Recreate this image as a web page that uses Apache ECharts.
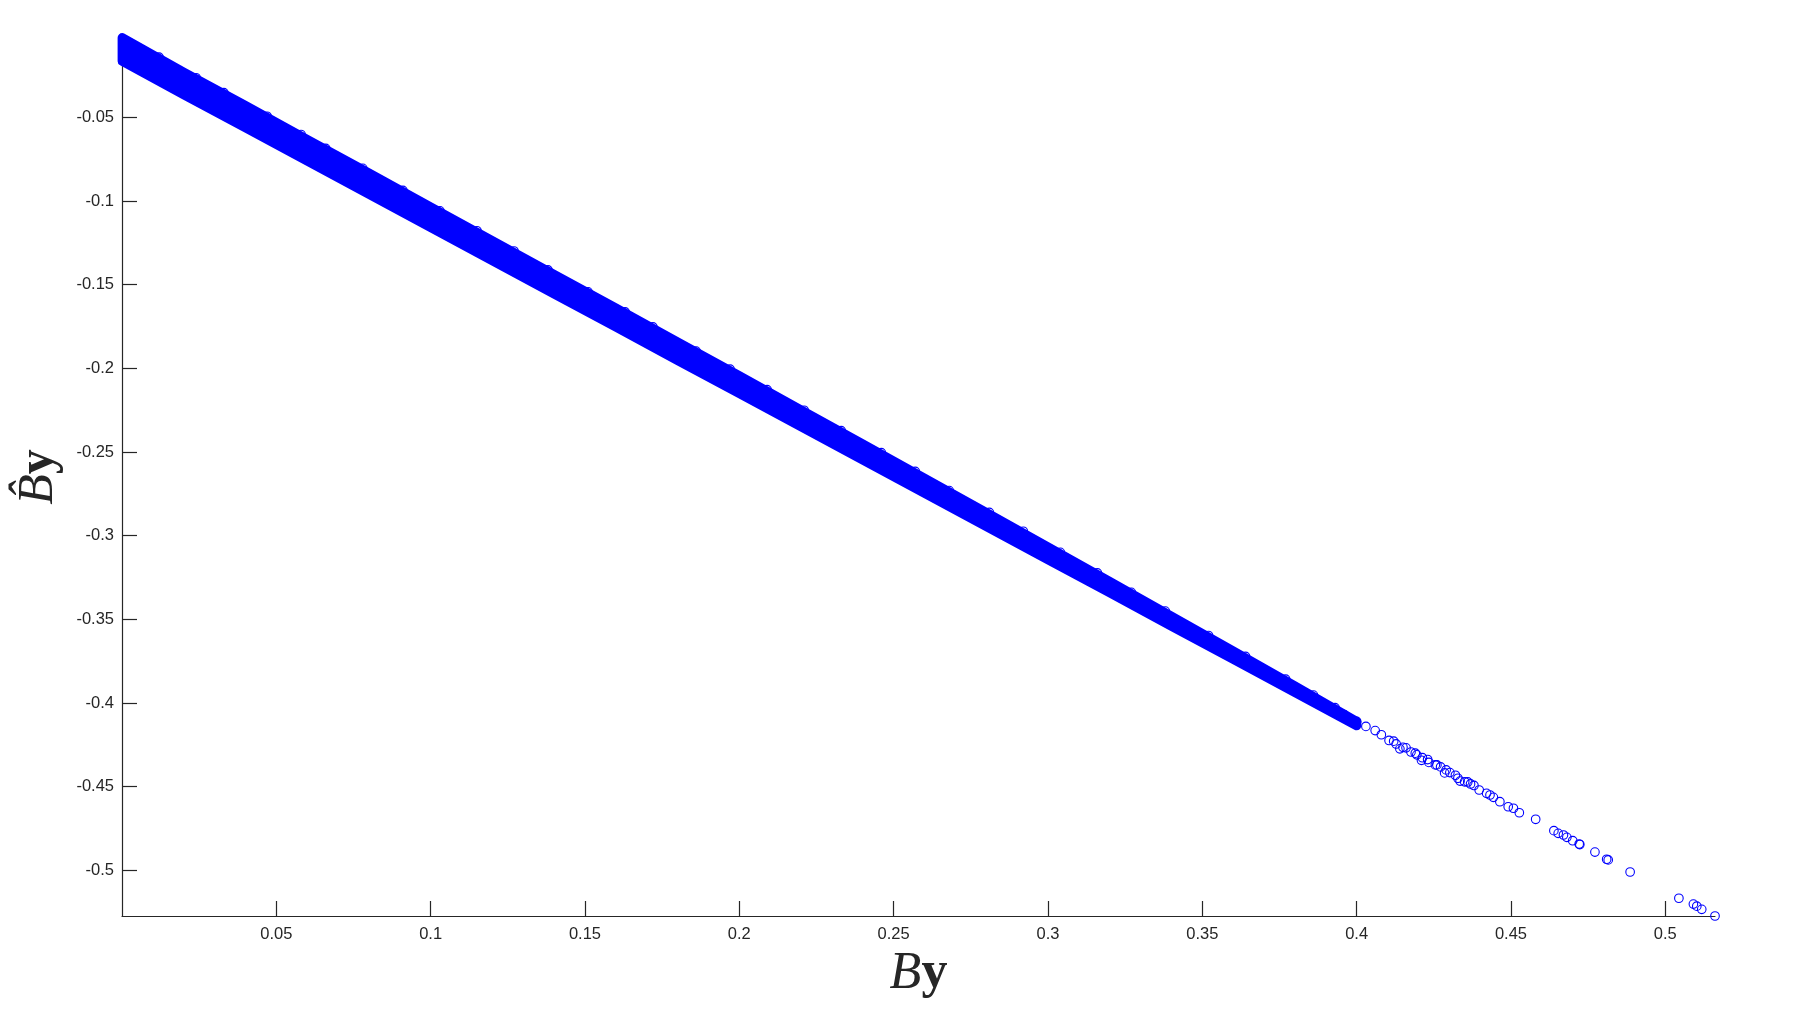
<!DOCTYPE html>
<html>
<head>
<meta charset="utf-8">
<script src="https://cdn.jsdelivr.net/npm/echarts@6/dist/echarts.min.js"></script>
<style>
html,body{margin:0;padding:0;background:#fff;}
#chart{width:1800px;height:1012px;}
</style>
</head>
<body>
<div id="chart"></div>
<script>
// Tick labels
const xTicks = [0.05, 0.1, 0.15, 0.2, 0.25, 0.3, 0.35, 0.4, 0.45, 0.5];
const yTicks = [-0.5, -0.45, -0.4, -0.35, -0.3, -0.25, -0.2, -0.15, -0.1, -0.05];

// Dense band of overlapping markers: x positions with upper / lower marker-centre edges
const bandX = [0.0001, 0.02, 0.04, 0.06, 0.08, 0.10, 0.12, 0.14, 0.16, 0.18, 0.20, 0.22, 0.24, 0.26, 0.28, 0.30, 0.32, 0.34, 0.36, 0.38, 0.40];
const bandUpper = [-0.0025, -0.0231, -0.0431, -0.0633, -0.0833, -0.1037, -0.1238, -0.1440, -0.1641, -0.1844, -0.2046, -0.2250, -0.2453, -0.2658, -0.2862, -0.3068, -0.3275, -0.3483, -0.3690, -0.3899, -0.4111];
const bandLower = [-0.0165, -0.0364, -0.0562, -0.0761, -0.0959, -0.1158, -0.1356, -0.1555, -0.1753, -0.1952, -0.2150, -0.2349, -0.2547, -0.2746, -0.2944, -0.3143, -0.3341, -0.3540, -0.3738, -0.3937, -0.4135];

// Markers sticking out of the band's upper edge
const edgeX = [0.012, 0.024, 0.033, 0.047, 0.058, 0.066, 0.078, 0.091, 0.103, 0.115, 0.127, 0.138, 0.151, 0.163, 0.172, 0.186, 0.197, 0.209, 0.221, 0.233, 0.246, 0.257, 0.268, 0.281, 0.292, 0.304, 0.316, 0.327, 0.338, 0.352, 0.364, 0.377, 0.386, 0.393];
const edgeY = [-0.0141, -0.0264, -0.0353, -0.0494, -0.0603, -0.0686, -0.0805, -0.0937, -0.1059, -0.1178, -0.1299, -0.1412, -0.1543, -0.1663, -0.1753, -0.1897, -0.2005, -0.2128, -0.2251, -0.2373, -0.2504, -0.2616, -0.2731, -0.2861, -0.2974, -0.3100, -0.3223, -0.3339, -0.3451, -0.3597, -0.3722, -0.3858, -0.3953, -0.4028];

// Sparse tail: individual points (x = By, y = B^y)
const tailX = [0.3960, 0.4000, 0.4030, 0.4060, 0.4080, 0.4105, 0.4120, 0.4128, 0.4140, 0.4150, 0.4160, 0.4176, 0.4190, 0.4195, 0.4210, 0.4213, 0.4230, 0.4234, 0.4255, 0.4260, 0.4272, 0.4285, 0.4290, 0.4302, 0.4320, 0.4328, 0.4335, 0.4350, 0.4360, 0.4369, 0.4380, 0.4397, 0.4421, 0.4432, 0.4443, 0.4464, 0.4491, 0.4508, 0.4527, 0.4580, 0.4639, 0.4653, 0.4670, 0.4681, 0.4700, 0.4721, 0.4723, 0.4772, 0.4810, 0.4815, 0.4886, 0.5044, 0.5091, 0.5102, 0.5118, 0.5161];
const tailY = [-0.4070, -0.4110, -0.4140, -0.4165, -0.4190, -0.4224, -0.4228, -0.4245, -0.4274, -0.4265, -0.4268, -0.4293, -0.4300, -0.4310, -0.4343, -0.4327, -0.4338, -0.4355, -0.4370, -0.4370, -0.4382, -0.4418, -0.4400, -0.4416, -0.4432, -0.4450, -0.4467, -0.4471, -0.4472, -0.4484, -0.4493, -0.4520, -0.4540, -0.4550, -0.4564, -0.4590, -0.4620, -0.4629, -0.4656, -0.4695, -0.4763, -0.4779, -0.4789, -0.4803, -0.4823, -0.4843, -0.4846, -0.4891, -0.4934, -0.4938, -0.5010, -0.5167, -0.5202, -0.5214, -0.5233, -0.5273];

const xMin = 0, xMax = 0.5161;
const yMin = -0.5273, yMax = -0.0025;

const tailData = tailX.map((x, i) => [x, tailY[i]]);
const edgeData = edgeX.map((x, i) => [x, edgeY[i]]);

const axisColor = '#262626';
const markerColor = '#0000ff';
const chart = echarts.init(document.getElementById('chart'), null, {renderer: 'canvas'});

function renderBand(params, api) {
  const pts = [];
  for (let i = 0; i < bandX.length; i++) pts.push(api.coord([bandX[i], bandUpper[i]]));
  for (let i = bandX.length - 1; i >= 0; i--) pts.push(api.coord([bandX[i], bandLower[i]]));
  return {
    type: 'polygon',
    shape: {points: pts},
    style: {fill: markerColor, stroke: markerColor, lineWidth: 9.4, lineJoin: 'round'}
  };
}

const circleStyle = {color: 'rgba(0,0,0,0)', borderColor: markerColor, borderWidth: 1.1, opacity: 1};

const option = {
  animation: false,
  backgroundColor: '#ffffff',
  grid: {left: 122, right: 85, top: 37.8, bottom: 96, containLabel: false},
  xAxis: {
    type: 'value', min: xMin, max: xMax,
    name: '{i|B}{b|y}',
    nameLocation: 'middle', nameGap: 26,
    nameTextStyle: {
      rich: {
        i: {fontFamily: 'Liberation Serif', fontStyle: 'italic', fontSize: 52, color: axisColor},
        b: {fontFamily: 'Liberation Serif', fontWeight: 'bold', fontSize: 52, color: axisColor}
      }
    },
    axisLine: {show: true, onZero: false, lineStyle: {color: axisColor, width: 1.2}},
    axisTick: {show: true, inside: true, length: 15, customValues: xTicks, lineStyle: {color: axisColor, width: 1.2}},
    axisLabel: {show: true, customValues: xTicks, margin: 10, fontFamily: 'Liberation Sans', fontSize: 16.5, color: axisColor},
    splitLine: {show: false}
  },
  yAxis: {
    type: 'value', min: yMin, max: yMax,
    name: '{i|B\u0302}{b|y}',
    nameLocation: 'middle', nameGap: 58, nameRotate: 90,
    nameTextStyle: {
      rich: {
        i: {fontFamily: 'Liberation Serif', fontStyle: 'italic', fontSize: 50, color: axisColor},
        b: {fontFamily: 'Liberation Serif', fontWeight: 'bold', fontSize: 50, color: axisColor}
      }
    },
    axisLine: {show: true, onZero: false, lineStyle: {color: axisColor, width: 1.2}},
    axisTick: {show: true, inside: true, length: 15, customValues: yTicks, lineStyle: {color: axisColor, width: 1.2}},
    axisLabel: {show: true, customValues: yTicks, margin: 8, fontFamily: 'Liberation Sans', fontSize: 16.5, color: axisColor},
    splitLine: {show: false}
  },
  series: [
    {
      type: 'custom',
      renderItem: renderBand,
      data: [[bandX[0], bandUpper[0]]],
      z: 2
    },
    {
      type: 'scatter',
      data: edgeData,
      symbol: 'circle',
      symbolSize: 8.6,
      itemStyle: circleStyle,
      z: 3
    },
    {
      type: 'scatter',
      data: tailData,
      symbol: 'circle',
      symbolSize: 8.6,
      itemStyle: circleStyle,
      z: 3
    }
  ]
};
chart.setOption(option);
</script>
</body>
</html>
